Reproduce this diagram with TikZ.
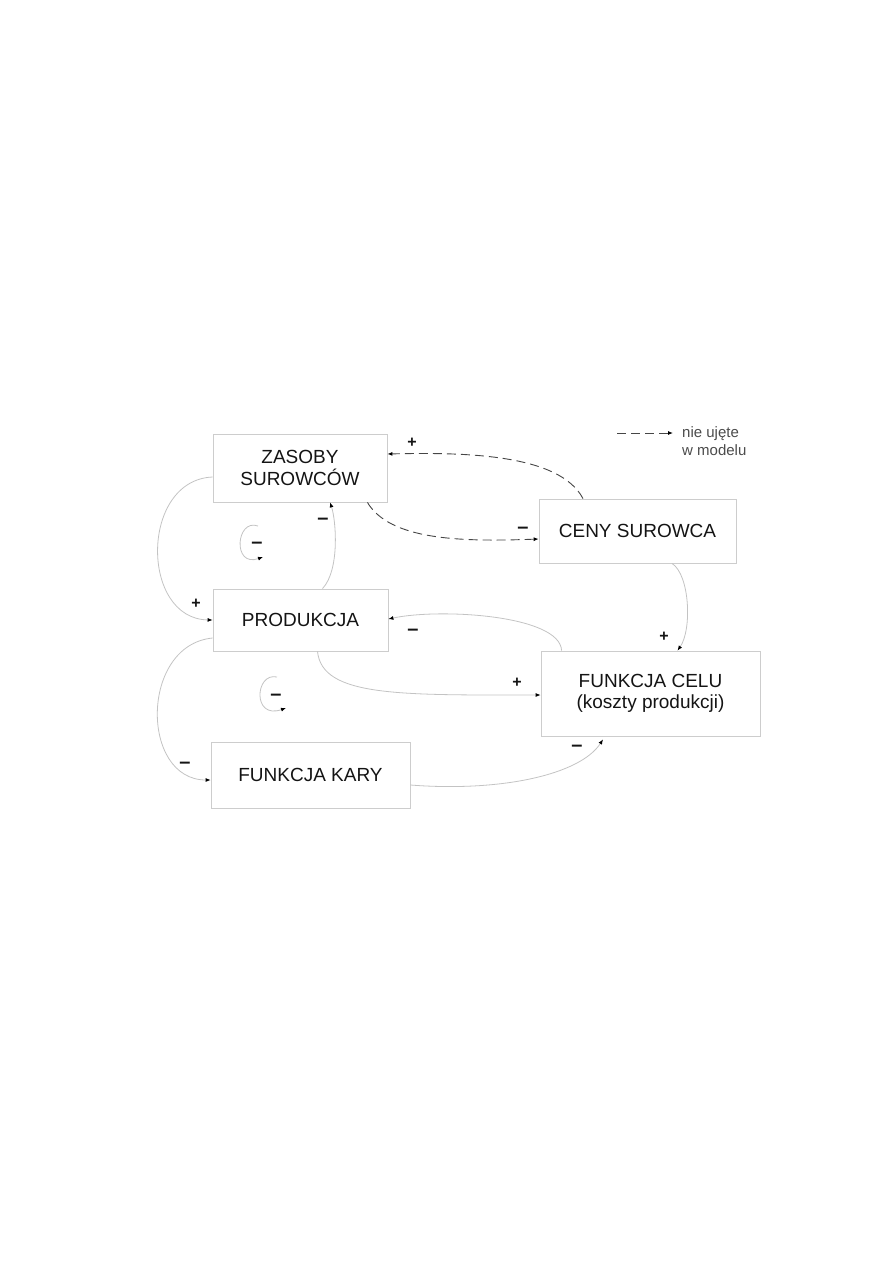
\documentclass[tikz,border=0pt]{standalone}
\usepackage{fontspec}
\setmainfont{Liberation Sans}
\usetikzlibrary{arrows.meta}
\definecolor{cbox}{RGB}{205,205,205}
\definecolor{clink}{RGB}{195,195,195}
\definecolor{cdash}{RGB}{70,70,70}
\definecolor{ctext}{RGB}{20,20,20}
\definecolor{clegend}{RGB}{75,75,75}
\tikzset{pix/.style={x=1pt,y=-1pt}}
\tikzset{block/.style={draw=cbox,line width=0.8pt,inner sep=0pt,align=center,text=ctext,
                       font=\fontsize{19}{21.5}\selectfont},
         link/.style={clink,line width=0.8pt,-{Latex[length=5pt,width=4pt,color=black]}},
         nolink/.style={cdash,line width=0.9pt,dash pattern=on 9pt off 5pt,
                        -{Latex[length=5pt,width=4pt,color=black]}},
         signp/.style={font=\fontsize{16}{16}\selectfont\bfseries,text=ctext,inner sep=0pt},
         signm/.style={font=\fontsize{20}{20}\selectfont\bfseries,text=ctext,inner sep=0pt}}

\begin{document}
\begin{tikzpicture}[pix]
    \useasboundingbox (0,0) rectangle (893,1263);
    % blocks
    \node[block,minimum width=174pt,minimum height=68pt] (zas)  at (300,468)   {ZASOBY\\SUROWCÓW};
    \node[block,minimum width=175pt,minimum height=62pt] (prod) at (300.5,620) {PRODUKCJA};
    \node[block,minimum width=199pt,minimum height=66pt] (kary) at (310.5,775) {FUNKCJA KARY};
    \node[block,minimum width=197pt,minimum height=64pt] (ceny) at (637.5,531) {CENY SUROWCA};
    \node[block,minimum width=219pt,minimum height=85pt] (celu) at (650.5,693.5) {FUNKCJA CELU\\(koszty produkcji)};
    % legend
    \coordinate (legS) at (617,433);
    \coordinate (legE) at (673,433);
    \node[anchor=west,align=left,inner sep=0pt,text=clegend,font=\fontsize{15}{18}\selectfont] (leg) at (682,441) {nie ujęte\\w modelu};
    \draw[nolink] (legS) -- (legE);
    % links
    \draw[link] ([yshift=-9pt]zas.west) .. controls (140,480) and (140,619) .. (prod.west);
    \draw[link] ([xshift=22pt]prod.north) .. controls (340,570) and (336,520) .. ([xshift=30pt]zas.south);
    \draw[link] ([yshift=-18pt]prod.west) .. controls (140,645) and (140,780) .. ([yshift=-5pt]kary.west);
    \draw[link] ([xshift=17pt]prod.south) .. controls (322,697) and (400,695) .. ([yshift=-1.5pt]celu.west);
    \draw[link] ([xshift=21pt]celu.north west) .. controls (560,615) and (440,608) .. ([yshift=1pt]prod.east);
    \draw[link] ([xshift=34.5pt]ceny.south) .. controls (690,575) and (692,630) .. ([xshift=27pt]celu.north);
    \draw[link] ([yshift=-10pt]kary.east) .. controls (500,792) and (580,775) .. ([xshift=-47.5pt,yshift=-3pt]celu.south);
    \draw[nolink] ([xshift=-20pt]zas.south east) .. controls (390,540) and (460,542) .. ([yshift=-8pt]ceny.west);
    \draw[nolink] ([xshift=-54.5pt]ceny.north) .. controls (560,455) and (470,452) .. ([yshift=14pt]zas.east);
    % loops
    \draw[link] (258,526) .. controls (236,518) and (232,568) .. (263,557);
    \draw[link] (277,677) .. controls (255,672) and (252,720) .. (286,708);
    % signs
    \node[signp] (s1)  at (196,604) {+};
    \node[signm] (s2)  at (323,521) {–};
    \node[signm] (s3)  at (257,545) {–};
    \node[signm] (s4)  at (523,530) {–};
    \node[signp] (s5)  at (412,443) {+};
    \node[signp] (s6)  at (664,637) {+};
    \node[signm] (s7)  at (413,632) {–};
    \node[signp] (s8)  at (517,683) {+};
    \node[signm] (s9)  at (276,697) {–};
    \node[signm] (s10) at (185,765) {–};
    \node[signm] (s11) at (577,748) {–};
\end{tikzpicture}
\end{document}
